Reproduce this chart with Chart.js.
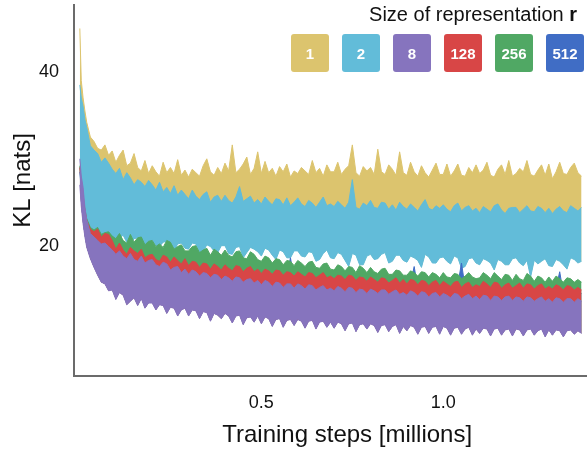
<!DOCTYPE html>
<html>
<head>
<meta charset="utf-8">
<script src="https://cdn.jsdelivr.net/npm/chart.js@4.4.1/dist/chart.umd.min.js"></script>
<style>
  body { margin: 0; background: #fff; font-family: "Liberation Sans", Arial, sans-serif; }
  #wrap { position: relative; width: 587px; height: 450px; }
  #legendTitle { position: absolute; top: 3px; right: 10px; font-size: 20px; line-height: 22px; color: #111; }
  #legendBoxes { position: absolute; top: 34px; right: 3px; display: flex; gap: 13px; }
  .box { width: 38px; height: 38px; border-radius: 3px; color: #fff; font-weight: bold; font-size: 15px;
         display: flex; align-items: center; justify-content: center; }
</style>
</head>
<body>
<div id="wrap">
  <canvas id="kl" width="587" height="450"></canvas>
  <div id="legendTitle">Size of representation <b>r</b></div>
  <div id="legendBoxes"></div>
</div>
<script>
// training steps (millions)
const steps = [0.001, 0.005, 0.01, 0.015, 0.02, 0.03, 0.04, 0.05, 0.06, 0.07, 0.08, 0.09,
  0.10, 0.11, 0.12, 0.13, 0.14, 0.15, 0.16, 0.17, 0.18, 0.19,
  0.20, 0.21, 0.22, 0.23, 0.24, 0.25, 0.26, 0.27, 0.28, 0.29,
  0.30, 0.31, 0.32, 0.33, 0.34, 0.35, 0.36, 0.37, 0.38, 0.39,
  0.40, 0.41, 0.42, 0.43, 0.44, 0.45, 0.46, 0.47, 0.48, 0.49,
  0.50, 0.51, 0.52, 0.53, 0.54, 0.55, 0.56, 0.57, 0.58, 0.59,
  0.60, 0.61, 0.62, 0.63, 0.64, 0.65, 0.66, 0.67, 0.68, 0.69,
  0.70, 0.71, 0.72, 0.73, 0.74, 0.75, 0.76, 0.77, 0.78, 0.79,
  0.80, 0.81, 0.82, 0.83, 0.84, 0.85, 0.86, 0.87, 0.88, 0.89,
  0.90, 0.91, 0.92, 0.93, 0.94, 0.95, 0.96, 0.97, 0.98, 0.99,
  1.00, 1.01, 1.02, 1.03, 1.04, 1.05, 1.06, 1.07, 1.08, 1.09,
  1.10, 1.11, 1.12, 1.13, 1.14, 1.15, 1.16, 1.17, 1.18, 1.19,
  1.20, 1.21, 1.22, 1.23, 1.24, 1.25, 1.26, 1.27, 1.28, 1.29,
  1.30, 1.31, 1.32, 1.33, 1.34, 1.35, 1.36, 1.37, 1.38];

const sizes = ["1", "2", "8", "128", "256", "512"];
const colors = ["#dcc46e", "#62bcd9", "#8674be", "#d84646", "#50a864", "#406dc5"];

// KL spread per representation size: upper edge of the noisy curve (and lower edge where it shows)
const r1Hi = [45.0, 39.0, 37.0, 35.5, 34.2, 32.5, 32.0, 31.2, 31.0, 31.6, 30.4, 30.9,
  29.6, 30.4, 31.0, 29.2, 29.5, 30.6, 29.0, 28.6, 29.8, 28.3,
  29.2, 28.5, 28.0, 29.6, 28.4, 29.0, 28.3, 29.9, 28.1, 28.7,
  27.9, 28.8, 28.4, 28.0, 29.2, 30.0, 28.5, 28.1, 29.0, 28.3,
  29.5, 28.6, 31.6, 28.4, 28.8, 29.4, 30.2, 28.2, 28.9, 30.8,
  28.3, 29.7, 28.4, 28.9, 28.0, 29.1, 28.5, 29.4, 27.9, 28.6,
  28.3, 29.0, 28.6, 28.2, 29.8, 28.4, 28.9, 28.0, 29.3, 28.5,
  28.5, 29.6, 28.2, 28.8, 29.2, 31.6, 28.4, 28.0, 29.1, 28.6,
  29.0, 28.2, 31.1, 28.5, 28.2, 29.3, 28.8, 28.1, 30.8, 28.4,
  28.1, 29.6, 28.5, 28.0, 29.2, 28.4, 27.9, 28.7, 29.5, 28.2,
  28.2, 29.4, 28.0, 28.6, 29.4, 28.1, 28.0, 29.0, 28.4, 29.3,
  28.3, 28.7, 29.6, 28.1, 27.9, 28.8, 29.3, 28.2, 29.8, 28.0,
  28.3, 28.9, 28.5, 29.8, 28.2, 28.0, 28.7, 29.3, 28.1, 29.4,
  27.7, 28.5, 29.6, 28.3, 28.2, 29.0, 29.5, 28.4, 28.0];

const r2Hi = [38.5, 37.0, 36.0, 34.5, 33.6, 31.5, 31.0, 30.6, 29.6, 30.1, 29.5, 28.8,
  28.3, 28.9, 27.6, 28.4, 27.8, 27.0, 27.6, 27.3, 26.8, 27.5,
  27.0, 26.4, 27.3, 26.2, 26.7, 26.0, 26.9, 25.8, 26.4, 25.9,
  25.4, 26.4, 25.7, 25.3, 25.9, 26.2, 25.0, 25.6, 25.8, 25.1,
  25.8, 25.2, 24.9, 25.6, 26.8, 25.1, 25.4, 25.7, 24.9, 25.3,
  24.8, 25.6, 25.1, 24.7, 25.4, 25.3, 24.7, 25.5, 24.6, 25.0,
  25.5, 24.8, 24.5, 25.2, 24.9, 24.4, 25.0, 25.6, 24.6, 24.8,
  24.5, 25.1, 24.7, 24.3, 25.0, 27.6, 24.4, 24.2, 24.9, 24.6,
  25.2, 24.4, 24.3, 25.0, 24.9, 24.2, 24.7, 24.1, 25.0, 24.5,
  24.2, 24.8, 24.4, 24.0, 24.7, 25.3, 24.3, 24.1, 24.6, 24.3,
  24.7, 24.2, 23.9, 24.6, 24.9, 24.0, 24.4, 24.6, 24.0, 24.3,
  23.8, 24.5, 24.2, 23.9, 24.6, 24.8, 24.1, 23.7, 24.3, 24.4,
  24.4, 23.8, 24.2, 24.6, 24.0, 23.9, 24.5, 24.3, 23.8, 24.3,
  23.7, 24.2, 24.5, 24.0, 23.8, 24.6, 24.3, 24.0, 24.4];

const r2Lo = [29.0, 26.5, 24.8, 23.5, 22.5, 21.8, 21.5, 21.2, 21.0, 20.9, 20.8, 20.7,
  20.6, 20.9, 21.2, 20.4, 20.2, 20.8, 20.9, 19.9, 19.8, 20.5,
  20.6, 20.0, 19.9, 20.4, 20.5, 19.5, 19.4, 20.2, 20.3, 19.7,
  19.6, 20.3, 20.2, 19.1, 19.3, 20.1, 19.9, 19.4, 19.2, 20.0,
  20.0, 19.1, 19.0, 19.8, 19.9, 18.6, 19.2, 19.8, 19.6, 19.3,
  18.8, 19.7, 19.5, 18.9, 18.4, 19.5, 19.3, 18.6, 18.6, 19.4,
  19.4, 18.8, 18.7, 19.3, 19.2, 18.2, 18.4, 19.1, 19.5, 18.6,
  18.5, 19.2, 19.0, 18.3, 17.6, 19.1, 18.9, 17.8, 17.8, 18.8,
  19.0, 18.4, 18.5, 19.0, 19.2, 18.0, 18.2, 18.9, 18.9, 18.3,
  18.1, 18.8, 18.6, 18.3, 17.5, 19.0, 18.7, 18.0, 18.0, 18.6,
  18.7, 18.2, 17.9, 18.8, 18.6, 17.4, 17.6, 18.5, 18.6, 18.0,
  17.8, 18.5, 18.3, 18.0, 17.2, 18.4, 18.2, 17.8, 17.8, 18.5,
  18.6, 18.0, 17.7, 18.3, 16.4, 18.3, 17.9, 18.2, 18.5, 17.7,
  17.6, 18.4, 18.2, 17.8, 17.3, 18.6, 18.4, 18.0, 18.2];

const r8Hi = [30.0, 28.0, 26.7, 24.4, 23.0, 21.4, 21.0, 20.6, 20.2, 20.3, 19.9, 19.5,
  19.0, 19.4, 18.8, 18.5, 19.1, 18.4, 18.2, 18.8, 18.0, 18.3,
  18.4, 17.8, 17.6, 18.1, 17.9, 17.2, 17.5, 17.6, 16.9, 17.3,
  16.7, 17.2, 17.0, 16.5, 16.9, 16.8, 16.3, 16.7, 16.6, 16.1,
  16.5, 16.3, 15.9, 16.4, 16.3, 15.8, 16.1, 16.2, 15.7, 16.0,
  15.5, 16.0, 15.8, 15.3, 15.8, 15.7, 15.2, 15.6, 15.6, 15.1,
  15.6, 15.4, 15.0, 15.5, 15.4, 14.9, 15.2, 15.4, 14.9, 15.1,
  14.8, 15.3, 15.1, 14.7, 15.2, 15.1, 14.6, 15.0, 14.9, 14.5,
  15.0, 14.8, 14.5, 14.9, 14.9, 14.4, 14.7, 14.9, 14.4, 14.6,
  14.3, 14.8, 14.6, 14.2, 14.7, 14.6, 14.1, 14.5, 14.6, 14.1,
  14.5, 14.3, 14.0, 14.5, 14.4, 13.9, 14.2, 14.4, 13.9, 14.2,
  13.8, 14.3, 14.2, 13.7, 14.2, 14.1, 13.7, 14.1, 14.2, 13.7,
  14.1, 14.0, 13.6, 14.1, 14.0, 13.6, 13.9, 14.1, 13.6, 13.9,
  13.5, 14.0, 13.9, 13.5, 13.9, 13.9, 13.5, 13.9, 13.6];

const r8Lo = [27.0, 24.5, 22.5, 21.0, 19.8, 18.5, 17.5, 16.6, 15.8, 15.6, 14.8, 14.9,
  13.8, 14.6, 14.3, 13.2, 13.6, 14.0, 13.1, 13.9, 12.8, 13.4,
  13.4, 12.6, 13.2, 13.1, 12.2, 12.9, 12.8, 11.9, 12.6, 12.8,
  11.9, 12.6, 12.5, 11.6, 12.4, 12.3, 11.3, 12.2, 12.0, 11.6,
  12.2, 11.9, 11.1, 11.9, 12.0, 10.9, 11.7, 11.8, 11.2, 11.9,
  11.0, 11.8, 11.6, 10.7, 11.5, 11.6, 10.6, 11.4, 11.5, 10.8,
  11.5, 11.3, 10.5, 11.3, 11.4, 10.4, 11.2, 11.3, 10.6, 11.2,
  10.5, 11.2, 11.0, 10.2, 11.0, 11.1, 10.1, 10.9, 11.0, 10.4,
  11.0, 10.8, 10.0, 10.8, 10.9, 10.1, 10.7, 10.9, 9.9, 10.7,
  10.2, 10.8, 10.6, 9.8, 10.6, 10.7, 9.9, 10.6, 10.7, 9.8,
  10.7, 10.5, 9.7, 10.5, 10.6, 9.8, 10.4, 10.6, 9.7, 10.4,
  9.9, 10.5, 10.4, 9.6, 10.4, 10.5, 9.7, 10.3, 10.4, 9.6,
  10.4, 10.3, 9.6, 10.3, 10.4, 9.7, 10.2, 10.4, 9.5, 10.3,
  9.7, 10.3, 10.2, 9.5, 10.2, 10.3, 9.8, 10.2, 9.9];

const r128Hi = [29.0, 27.0, 25.5, 24.0, 22.9, 21.9, 21.6, 21.9, 21.0, 21.4, 21.3, 20.6,
  19.6, 20.3, 19.5, 19.0, 19.8, 19.4, 19.1, 19.6, 18.6, 18.9,
  19.0, 18.4, 18.2, 18.9, 18.7, 18.1, 18.7, 18.3, 17.9, 18.5,
  17.7, 18.2, 18.1, 17.5, 18.0, 17.9, 17.3, 17.9, 17.6, 17.2,
  17.8, 17.4, 17.1, 17.7, 17.6, 17.0, 17.4, 17.6, 17.0, 17.3,
  16.8, 17.3, 17.1, 16.7, 17.2, 17.1, 16.6, 17.0, 16.9, 16.5,
  17.0, 16.7, 16.4, 16.9, 16.8, 16.3, 16.6, 16.9, 16.3, 16.5,
  16.2, 16.6, 16.5, 16.1, 16.6, 16.5, 16.0, 16.4, 16.3, 15.9,
  16.4, 16.1, 15.8, 16.3, 16.2, 15.7, 16.0, 16.3, 15.7, 16.1,
  15.6, 16.1, 16.0, 15.5, 16.0, 15.9, 15.4, 15.8, 16.0, 15.4,
  15.9, 15.6, 15.3, 15.8, 15.9, 15.2, 15.6, 15.8, 15.2, 15.5,
  15.3, 15.9, 15.6, 15.2, 15.8, 15.7, 15.1, 15.5, 15.7, 15.1,
  15.4, 15.7, 15.1, 15.6, 15.5, 15.0, 15.4, 15.6, 15.0, 15.3,
  15.0, 15.5, 15.3, 14.9, 15.4, 15.3, 14.9, 15.2, 14.9];

const r256Hi = [29.2, 27.2, 25.7, 24.2, 23.1, 22.1, 21.8, 22.1, 21.3, 21.5, 21.6, 21.1,
  20.8, 21.4, 20.6, 20.3, 21.3, 20.4, 20.9, 21.0, 20.1, 20.5,
  20.6, 19.9, 20.2, 19.8, 20.6, 20.4, 19.6, 19.9, 20.1, 19.4,
  19.4, 19.9, 20.0, 19.2, 19.5, 19.7, 18.9, 19.6, 19.3, 18.9,
  19.5, 18.9, 18.7, 19.3, 19.4, 18.6, 18.5, 19.3, 19.0, 18.4,
  18.2, 18.8, 18.6, 18.0, 18.5, 18.4, 17.8, 18.3, 18.2, 17.7,
  18.3, 18.0, 17.6, 18.1, 18.2, 17.5, 17.4, 17.9, 18.0, 17.3,
  17.2, 17.8, 17.6, 17.1, 17.6, 17.5, 16.9, 17.7, 17.4, 16.9,
  17.5, 17.0, 16.8, 17.3, 17.4, 16.7, 16.7, 17.2, 17.1, 16.6,
  16.6, 17.1, 16.9, 16.5, 17.0, 16.9, 16.4, 16.9, 16.7, 16.3,
  16.9, 16.4, 16.3, 16.8, 16.7, 16.2, 16.5, 16.9, 16.4, 16.2,
  16.3, 16.9, 16.6, 16.2, 16.9, 16.5, 16.1, 16.7, 16.6, 16.0,
  16.7, 16.2, 16.0, 16.8, 16.5, 15.9, 16.5, 16.3, 15.8, 16.4,
  15.9, 16.5, 16.2, 15.8, 16.3, 16.2, 15.8, 16.1, 15.8];

const r512Hi = [28.5, 26.5, 25.0, 23.6, 22.5, 21.5, 21.2, 21.4, 20.6, 21.0, 20.9, 20.2,
  19.2, 19.9, 19.1, 18.6, 19.4, 19.0, 18.7, 19.2, 18.2, 18.5,
  18.6, 18.0, 17.8, 18.5, 18.3, 17.7, 18.3, 17.9, 17.5, 18.1,
  17.3, 17.8, 17.7, 17.1, 17.6, 17.5, 16.9, 17.5, 17.2, 16.8,
  17.4, 17.0, 16.7, 17.3, 17.2, 16.6, 17.0, 17.2, 16.6, 16.9,
  16.4, 16.9, 16.7, 16.3, 16.8, 16.7, 16.2, 16.6, 18.6, 16.1,
  16.6, 16.3, 16.0, 16.5, 16.4, 15.9, 16.2, 16.5, 15.9, 16.1,
  15.8, 16.2, 16.1, 15.7, 16.2, 16.1, 15.6, 16.0, 15.9, 15.5,
  16.0, 15.7, 15.4, 15.9, 15.8, 15.3, 15.6, 15.9, 15.3, 15.7,
  15.2, 15.7, 17.6, 15.1, 15.6, 15.5, 15.0, 15.4, 15.6, 15.0,
  15.5, 15.2, 14.9, 15.4, 15.5, 18.0, 15.2, 15.4, 14.8, 15.1,
  14.9, 15.5, 15.2, 14.8, 15.4, 15.3, 14.7, 15.1, 15.3, 14.7,
  15.0, 15.3, 14.7, 15.2, 15.1, 14.6, 15.0, 15.2, 14.6, 14.9,
  14.6, 15.1, 17.0, 14.5, 15.0, 14.9, 14.5, 14.8, 14.5];

const xTicks = [0.5, 1.0];
const yTicks = [20, 40];

function pts(values) {
  return steps.map((s, i) => ({ x: s, y: values[i] }));
}

function band(values, color, fillTo, order) {
  return {
    data: pts(values),
    borderColor: color,
    backgroundColor: color,
    borderWidth: 1,
    pointRadius: 0,
    tension: 0,
    fill: fillTo,
    order: order
  };
}

// index 2 = r2Lo, index 6 = r8Lo (fill targets)
const datasets = [
  band(r1Hi, colors[0], 2, 7),
  band(r2Hi, colors[1], 2, 6),
  band(r2Lo, colors[1], false, 6),
  band(r512Hi, colors[5], 6, 5),
  band(r256Hi, colors[4], 6, 4),
  band(r128Hi, colors[3], 6, 3),
  band(r8Lo, colors[2], false, 2),
  band(r8Hi, colors[2], 6, 2)
];

const font = "'Liberation Sans', Arial, sans-serif";

new Chart(document.getElementById("kl"), {
  type: "line",
  data: { datasets: datasets },
  options: {
    responsive: false,
    animation: false,
    devicePixelRatio: 1,
    layout: { padding: { top: 5, right: 0, left: 0, bottom: 0 } },
    plugins: { legend: { display: false }, tooltip: { enabled: false } },
    scales: {
      x: {
        type: "linear",
        min: -0.015,
        max: 1.395,
        grid: { display: false },
        border: { color: "#6b6b6b", width: 2 },
        afterBuildTicks: (s) => { s.ticks = xTicks.map(v => ({ value: v })); },
        afterFit: (s) => { s.height = 74; s.paddingLeft = 0; s.paddingRight = 0; },
        ticks: {
          color: "#111", padding: 8, maxRotation: 0,
          font: { family: font, size: 18 },
          callback: (v) => Number(v).toFixed(1)
        },
        title: {
          display: true, text: "     Training steps [millions]", color: "#111",
          font: { family: font, size: 24 }, padding: 0
        }
      },
      y: {
        min: 5,
        max: 47.7,
        grid: { display: false },
        border: { color: "#6b6b6b", width: 2 },
        afterBuildTicks: (s) => { s.ticks = yTicks.map(v => ({ value: v })); },
        afterFit: (s) => { s.width = 74; s.paddingTop = 0; s.paddingBottom = 0; },
        ticks: {
          color: "#111", padding: 7,
          font: { family: font, size: 18 },
          callback: (v) => String(v)
        },
        title: {
          display: true, text: "   KL [nats]", color: "#111",
          font: { family: font, size: 24 }, padding: { top: 9, bottom: 0 }
        }
      }
    }
  }
});

// legend: one coloured box per representation size
const boxes = document.getElementById("legendBoxes");
sizes.forEach((s, i) => {
  const d = document.createElement("div");
  d.className = "box";
  d.style.background = colors[i];
  d.textContent = s;
  boxes.appendChild(d);
});
</script>
</body>
</html>
